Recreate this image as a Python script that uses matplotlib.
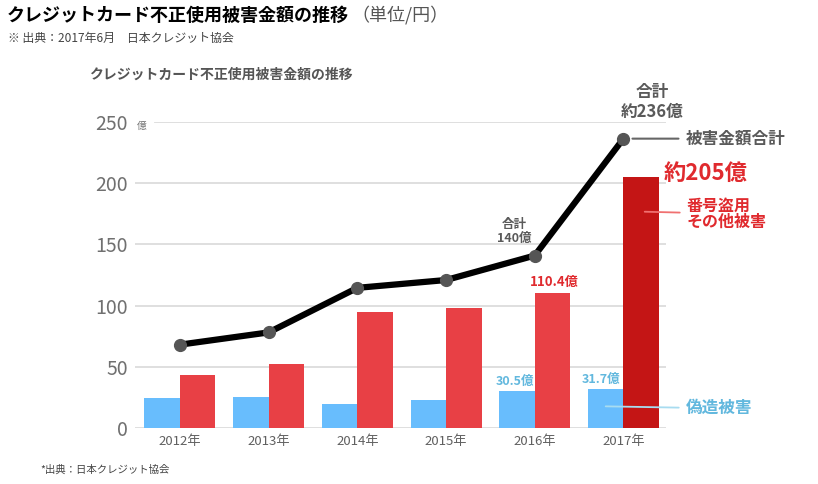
import numpy as np
import matplotlib
matplotlib.use('Agg')
import matplotlib.pyplot as plt
import matplotlib.transforms as mtransforms

plt.rcParams['font.family'] = ['Noto Sans CJK JP', 'DejaVu Sans']

# data (単位: 億円)
years = ['2012年', '2013年', '2014年', '2015年', '2016年', '2017年']
counterfeit = [24.7, 25.5, 19.5, 23.1, 30.5, 31.7]      # 偽造被害
number_theft = [43.4, 52.6, 95.0, 97.8, 110.4, 204.7]    # 番号盗用・その他被害
total = [68.1, 78.1, 114.5, 120.9, 140.9, 236.4]        # 被害金額合計
y_ticks = [0, 50, 100, 150, 200, 250]

BLUE = '#68bdfd'
RED = '#e84045'
DARK_RED = '#c41515'
LABEL_BLUE = '#62b8de'
GRAY = '#5a5a5a'

fig = plt.figure(figsize=(8.18, 4.84), dpi=100)
ax = fig.add_axes([135 / 818, 56 / 484, 531 / 818, 306 / 484])

x = np.arange(len(years))
w = 0.4
red_colors = [RED] * (len(years) - 1) + [DARK_RED]

# gridlines (250 line starts after the 億 unit)
for t in y_ticks:
    start = 0.038 if t == 250 else 0.0
    ax.axhline(t, xmin=start, xmax=1, color='#dcdcdc', lw=1.3, zorder=0)

ax.bar(x - w / 2, counterfeit, width=w, color=BLUE, zorder=2)
ax.bar(x + w / 2, number_theft, width=w, color=red_colors, zorder=2)
ax.plot(x, total, color='black', lw=4.5, zorder=3,
        marker='o', markersize=8.5, markerfacecolor='#555555', markeredgecolor='#555555')

ax.set_xlim(-0.507, 5.48)
ax.set_ylim(0, 250)
ax.set_xticks(x)
ax.set_xticklabels(years)
ax.set_yticks(y_ticks)
ax.set_yticklabels([str(t) for t in y_ticks])
ax.tick_params(axis='y', length=0, pad=5, labelsize=14, labelcolor='#707070')
ax.tick_params(axis='x', length=0, pad=5, labelsize=9.5, labelcolor='#606060')
for s in ax.spines.values():
    s.set_visible(False)

trans = mtransforms.blended_transform_factory(ax.transAxes, ax.transData)
ax.text(0.003, 247, '億', transform=trans, fontsize=7, color='#707070', va='center', ha='left')

# annotations
ax.annotate('合計\n約236億', xy=(x[5], total[5]), xytext=(29, 37), textcoords='offset pixels',
            ha='center', va='center', fontsize=12, fontweight='bold', color=GRAY, linespacing=1.15)
ax.annotate('被害金額合計', xy=(x[5], total[5]), xytext=(62, 0), textcoords='offset pixels',
            ha='left', va='center', fontsize=12, fontweight='bold', color=GRAY,
            arrowprops=dict(arrowstyle='-', color='#666666', lw=1.5, shrinkA=3, shrinkB=6.5))
ax.annotate('合計\n140億', xy=(x[4], total[4]), xytext=(-20, 24), textcoords='offset pixels',
            ha='center', va='center', fontsize=9, fontweight='bold', color=GRAY, linespacing=1.1)

ax.annotate('約205億', xy=(x[5] + w / 2, number_theft[5]), xytext=(22, 4), textcoords='offset pixels',
            ha='left', va='center', fontsize=16, fontweight='bold', color='#e02a2e')
ax.annotate('番号盗用\nその他被害', xy=(x[5] + 0.24, number_theft[5] - 28), xytext=(42, -2),
            textcoords='offset pixels', ha='left', va='center', fontsize=11.5, fontweight='bold',
            color='#e02a2e', linespacing=1.05,
            arrowprops=dict(arrowstyle='-', color='#f07070', lw=1.3, shrinkA=3, shrinkB=0))
ax.annotate('110.4億', xy=(x[4] + w / 2, number_theft[4]), xytext=(2, 4), textcoords='offset pixels',
            ha='center', va='bottom', fontsize=9.5, fontweight='bold', color='#e02a2e')

ax.annotate('30.5億', xy=(x[4] - w / 2, counterfeit[4]), xytext=(-2, 3), textcoords='offset pixels',
            ha='center', va='bottom', fontsize=9, fontweight='bold', color=LABEL_BLUE)
ax.annotate('31.7億', xy=(x[5] - w / 2, counterfeit[5]), xytext=(-5, 3), textcoords='offset pixels',
            ha='center', va='bottom', fontsize=9, fontweight='bold', color=LABEL_BLUE)
ax.annotate('偽造被害', xy=(x[5] - w / 2, counterfeit[5] - 14), xytext=(80, -2), textcoords='offset pixels',
            ha='left', va='center', fontsize=12, fontweight='bold', color=LABEL_BLUE,
            arrowprops=dict(arrowstyle='-', color='#a8dcf0', lw=1.3, shrinkA=3, shrinkB=0))

# titles and notes
fig.text(7 / 818, 1 - 15 / 484, 'クレジットカード不正使用被害金額の推移', fontsize=13, fontweight='bold',
         color='black', ha='left', va='center')
fig.text(351 / 818, 1 - 15 / 484, '（単位/円）', fontsize=13, color='#555555', ha='left', va='center')
fig.text(8 / 818, 1 - 38 / 484, '※ 出典：2017年6月　日本クレジット協会', fontsize=8.6, color='#444444',
         ha='left', va='center')
fig.text(89 / 818, 1 - 75 / 484, 'クレジットカード不正使用被害金額の推移', fontsize=10, fontweight='bold',
         color='#555555', ha='left', va='center')
fig.text(40 / 818, 1 - 470 / 484, '*出典：日本クレジット協会', fontsize=7.5, color='#444444',
         ha='left', va='center')

fig.savefig('out.png', dpi=100)
